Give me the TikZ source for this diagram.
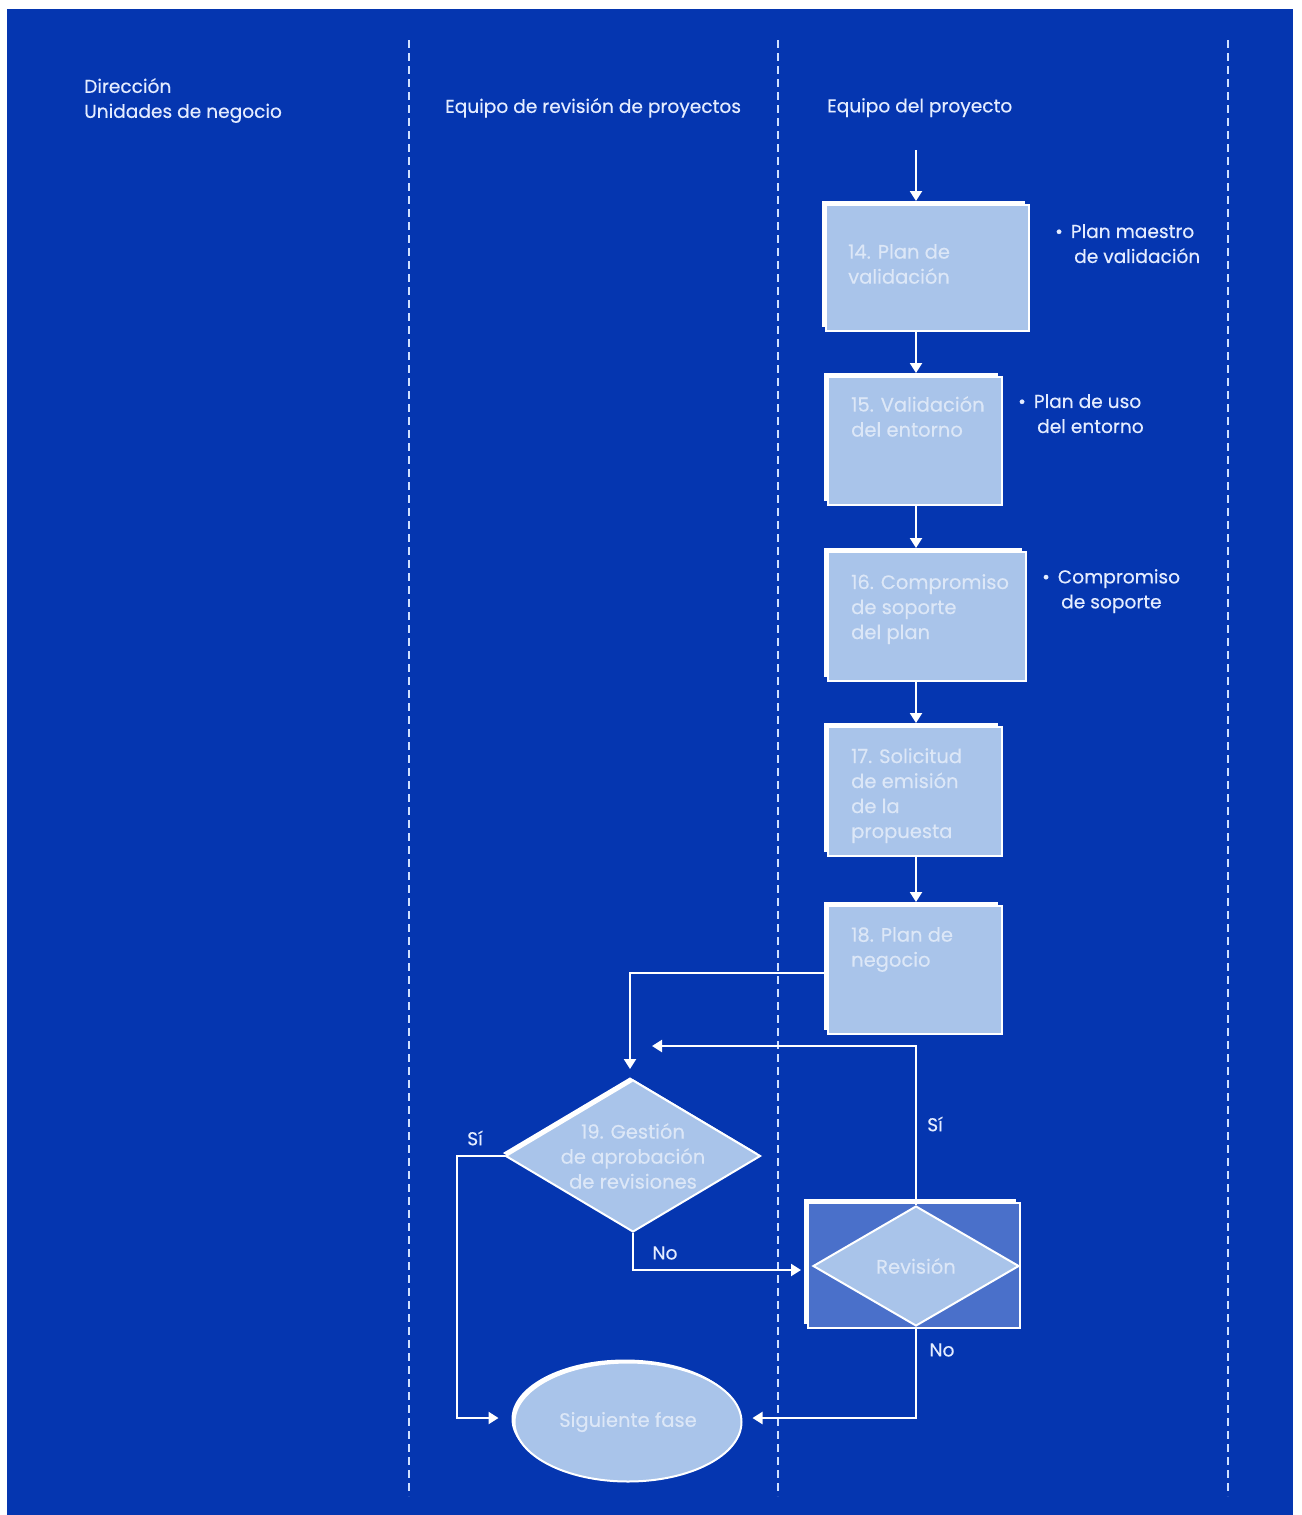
\documentclass[tikz,border=0pt]{standalone}
\usepackage{fontspec}
\setmainfont{Poppins}[FakeBold=0.4]
\usetikzlibrary{shapes.geometric,arrows.meta,shadows}
\definecolor{bgblue}{HTML}{0536B0}
\definecolor{boxfill}{HTML}{A9C4EA}
\definecolor{boxtext}{HTML}{DCE7F7}
\definecolor{revfill}{HTML}{4A70CA}
\definecolor{hdr}{HTML}{E4ECFF}
\definecolor{lane}{HTML}{D0E0FF}
\tikzset{
  stepbox/.style={rectangle, fill=boxfill, draw=white, line width=2pt, inner sep=0pt,
     general shadow={fill=white, shadow xshift=-4pt, shadow yshift=4pt}},
  boxtxt/.style={anchor=north west, inner sep=0pt, align=left, text=boxtext,
     font=\fontsize{19.5}{25}\selectfont},
  hdrtxt/.style={anchor=north west, inner sep=0pt, align=left, text=hdr,
     font=\fontsize{18.6}{25}\selectfont},
  lbl/.style={inner sep=0pt, text=hdr, font=\fontsize{18.6}{25}\selectfont},
  inlbl/.style={inner sep=0pt, text=boxtext, font=\fontsize{19.5}{25}\selectfont},
  lanel/.style={draw=lane, line width=2.5pt, dash pattern=on 8pt off 5pt},
  conn/.style={draw=white, line width=2.2pt},
  arr/.style={conn, -{Triangle[width=12pt,length=10pt]}},
}
\begin{document}
\begin{tikzpicture}[x=1pt,y=-1pt]
\useasboundingbox (0,0) rectangle (1301,1515);
\fill[white] (0,0) rectangle (1301,1515);
\fill[bgblue] (7,9) rectangle (1293,1515);
% lanes
\draw[lanel] (409,40) -- (409,1496);
\draw[lanel] (778,40) -- (778,1496);
\draw[lanel] (1228,40) -- (1228,1496);
% headers
\node[hdrtxt] (h1) at (84,78) {Dirección\\Unidades de negocio};
\node[hdrtxt] (h2) at (445,98) {Equipo de revisión de proyectos};
\node[hdrtxt] (h3) at (827,98) {Equipo del proyecto};
% boxes
\node[stepbox, minimum width=203pt, minimum height=126pt] (b14) at (927.5,268) {};
\node[stepbox, minimum width=174pt, minimum height=128pt] (b15) at (915,441) {};
\node[stepbox, minimum width=198pt, minimum height=129pt] (b16) at (927,616.5) {};
\node[stepbox, minimum width=174pt, minimum height=129pt] (b17) at (915,791.5) {};
\node[stepbox, minimum width=174pt, minimum height=128pt] (b18) at (915,970) {};
\node[boxtxt] (t14) at (848,244) {14. Plan de\\validación};
\node[boxtxt] (t15) at (851,396) {15. Validación\\del entorno};
\node[boxtxt] (t16) at (851,574) {16. Compromiso\\de soporte\\del plan};
\node[boxtxt] (t17) at (851,748) {17. Solicitud\\de emisión\\de la\\propuesta};
\node[boxtxt] (t18) at (851,927) {18. Plan de\\negocio};
% notes
\node[hdrtxt] (n14) at (1055,224) {•\hspace{8pt}Plan maestro\\\hspace{19pt}de validación};
\node[hdrtxt] (n15) at (1018,394) {•\hspace{8pt}Plan de uso\\\hspace{19pt}del entorno};
\node[hdrtxt] (n16) at (1042,569) {•\hspace{8pt}Compromiso\\\hspace{19pt}de soporte};
% decision 19
\node[shape=diamond, fill=boxfill, draw=white, line width=2pt, inner sep=0pt,
  minimum width=255pt, minimum height=152pt,
  general shadow={fill=white, shadow xshift=-3pt, shadow yshift=3pt}] (d19) at (633,1156) {};
\node[inlbl, align=center] (t19) at (d19.center) {19. Gestión\\de aprobación\\de revisiones};
% revision
\node[rectangle, fill=revfill, draw=white, line width=2pt, inner sep=0pt,
  minimum width=212pt, minimum height=125pt,
  general shadow={fill=white, shadow xshift=-4pt, shadow yshift=4pt}] (rev) at (914,1265.5) {};
\node[shape=diamond, fill=boxfill, draw=white, line width=2pt, inner sep=0pt,
  minimum width=206pt, minimum height=120pt] (revd) at (916,1266) {};
\node[inlbl] (trev) at (revd.center) {Revisión};
% end ellipse
\node[ellipse, fill=boxfill, draw=white, line width=2pt, inner sep=0pt,
  minimum width=227pt, minimum height=119pt,
  general shadow={fill=white, shadow xshift=-3pt, shadow yshift=3pt}] (fin) at (628,1422) {};
\node[inlbl] (tfin) at (fin.center) {Siguiente fase};
% connectors
\coordinate (top) at (916,150);
\draw[arr, shorten >=3pt] (top) -- (top |- b14.north);
\draw[arr, shorten >=3pt] (top |- b14.south) -- (top |- b15.north);
\draw[arr, shorten >=3pt] (top |- b15.south) -- (top |- b16.north);
\draw[arr, shorten >=3pt] (top |- b16.south) -- (top |- b17.north);
\draw[arr, shorten >=3pt] (top |- b17.south) -- (top |- b18.north);
\coordinate (c18) at (630,973);
\draw[arr, shorten >=10pt] (b18.west |- c18) -- (c18) -- (c18 |- d19.north);
\coordinate (csi) at (457,1418);
\draw[arr, shorten >=15pt] (d19.west) -- (d19.west -| csi) -- (csi) -- (csi -| fin.west);
\coordinate (cno) at (633,1270);
\draw[arr, shorten >=6pt] (d19.south) -- (cno) -- (cno -| rev.west);
\coordinate (cup) at (916,1046);
\coordinate (cupend) at (652,1046);
\draw[arr] (revd.north) -- (cup) -- (cupend);
\coordinate (cdn) at (916,1418);
\draw[arr, shorten >=10pt] (revd.south) -- (cdn) -- (cdn -| fin.east);
% labels
\node[lbl] (l1) at (475,1138) {Sí};
\node[lbl] (l2) at (665,1253) {No};
\node[lbl] (l3) at (935,1124) {Sí};
\node[lbl] (l4) at (942,1350) {No};
\end{tikzpicture}
\end{document}
